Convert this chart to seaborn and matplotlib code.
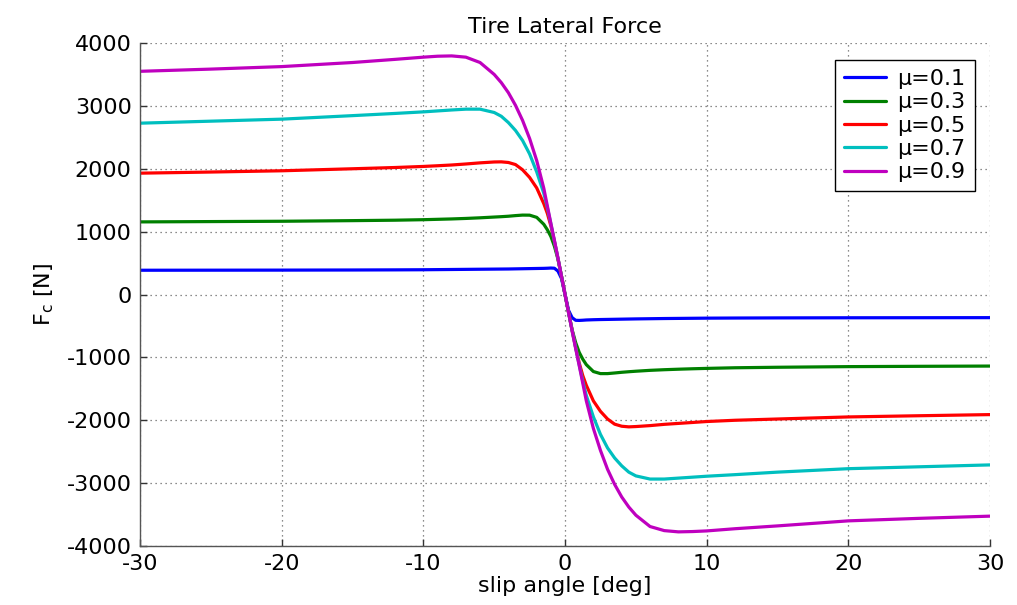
import matplotlib
matplotlib.use("Agg")
import matplotlib.pyplot as plt
import seaborn as sns
import pandas as pd

# slip angle samples [deg]
slip_deg = [-30, -25, -20, -15, -12, -10, -9, -8, -7, -6, -5, -4.5, -4, -3.5, -3,
            -2.5, -2, -1.5, -1.25, -1, -0.75, -0.5, -0.25, 0, 0.25, 0.5, 0.75, 1,
            1.25, 1.5, 2, 2.5, 3, 3.5, 4, 4.5, 5, 6, 7, 8, 9, 10, 12, 15, 20, 25, 30]

mu_labels = ["\u03bc=0.1", "\u03bc=0.3", "\u03bc=0.5", "\u03bc=0.7", "\u03bc=0.9"]

force_mu01 = [386, 387, 388, 390, 392, 394, 396, 398, 400, 402, 404, 405, 406, 408, 410,
              412, 414, 416, 418, 421, 418, 372, 255, 0, -253, -368, -410, -412,
              -409, -405, -401, -398, -396, -394, -392, -390, -388, -385, -382, -380,
              -378, -376, -374, -372, -370, -369, -368]

force_mu03 = [1155, 1160, 1165, 1175, 1182, 1190, 1196, 1202, 1210, 1220, 1232, 1238,
              1245, 1255, 1263, 1262, 1227, 1117, 1030, 923, 767, 563, 287, 0, -286,
              -562, -765, -920, -1028, -1115, -1225, -1258, -1258, -1248, -1237, -1228,
              -1220, -1206, -1196, -1188, -1181, -1175, -1165, -1157, -1147, -1142, -1138]

force_mu05 = [1930, 1948, 1968, 2000, 2020, 2037, 2048, 2060, 2076, 2094, 2108, 2110,
              2100, 2067, 1984, 1862, 1695, 1445, 1290, 1090, 845, 570, 290, 0, -289,
              -569, -843, -1088, -1288, -1443, -1692, -1858, -1980, -2062, -2095, -2105,
              -2100, -2085, -2065, -2050, -2035, -2020, -2000, -1980, -1947, -1928, -1910]

force_mu07 = [2725, 2757, 2789, 2845, 2880, 2905, 2920, 2935, 2948, 2948, 2895, 2835,
              2735, 2610, 2450, 2235, 1950, 1610, 1380, 1125, 848, 576, 289, 0, -288,
              -574, -845, -1120, -1375, -1605, -1945, -2225, -2440, -2600, -2725, -2825,
              -2885, -2935, -2935, -2920, -2905, -2890, -2865, -2825, -2770, -2740, -2710]

force_mu09 = [3550, 3585, 3625, 3690, 3740, 3775, 3790, 3795, 3775, 3690, 3500, 3370,
              3210, 3010, 2770, 2480, 2130, 1690, 1410, 1130, 860, 580, 290, 0, -290,
              -580, -860, -1130, -1410, -1690, -2130, -2480, -2780, -3020, -3220, -3380,
              -3510, -3690, -3755, -3775, -3770, -3760, -3725, -3680, -3600, -3560, -3525]

series = [force_mu01, force_mu03, force_mu05, force_mu07, force_mu09]
line_colors = ["#0000ff", "#008000", "#ff0000", "#00bfbf", "#bf00bf"]

rows = []
for lab, vals in zip(mu_labels, series):
    for a, f in zip(slip_deg, vals):
        rows.append({"slip": a, "force": f, "mu": lab})
df = pd.DataFrame(rows)

sns.set_style("ticks")
plt.rcParams["font.family"] = ["DejaVu Sans"]
plt.rcParams["mathtext.fontset"] = "dejavusans"
plt.rcParams["axes.unicode_minus"] = False
plt.rcParams["text.color"] = "black"
plt.rcParams["axes.labelcolor"] = "black"

fig = plt.figure(figsize=(10.17, 6.05), dpi=100)
ax = fig.add_axes([0.1377, 0.0975, 0.8358, 0.8314])

sns.lineplot(data=df, x="slip", y="force", hue="mu", hue_order=mu_labels,
             palette=line_colors, estimator=None, sort=False, linewidth=2.3, ax=ax)

ax.set_xlim(-30, 30)
ax.set_ylim(-4000, 4000)
ax.set_xticks([-30, -20, -10, 0, 10, 20, 30])
ax.set_yticks([-4000, -3000, -2000, -1000, 0, 1000, 2000, 3000, 4000])

ax.grid(True, linestyle=(0, (1, 3)), color="#666666", linewidth=0.9)
for side in ["top", "right"]:
    ax.spines[side].set_visible(False)
for side in ["left", "bottom"]:
    ax.spines[side].set_color("#555555")
    ax.spines[side].set_linewidth(1.0)

ax.tick_params(direction="in", length=5, width=1, colors="#333333",
               labelcolor="black", labelsize=16, pad=6)

ax.set_xlabel("slip angle [deg]", fontsize=16, labelpad=1, color="black")
ax.set_ylabel(r"F$_\mathrm{c}$ [N]", fontsize=16, labelpad=8, color="black")
ax.set_title("Tire Lateral Force", fontsize=16, pad=7, color="black")

handles, labels = ax.get_legend_handles_labels()
leg = ax.legend(handles, labels, loc="upper right", bbox_to_anchor=(0.982, 0.966),
                borderaxespad=0, fontsize=16, frameon=True, fancybox=False,
                edgecolor="black", framealpha=1, handlelength=1.9,
                handletextpad=0.5, labelspacing=0.15, borderpad=0.4)
leg.get_frame().set_linewidth(1.0)
for h in leg.get_lines():
    h.set_linewidth(2.3)
for t in leg.get_texts():
    t.set_color("black")

fig.savefig("out.png", dpi=100)
